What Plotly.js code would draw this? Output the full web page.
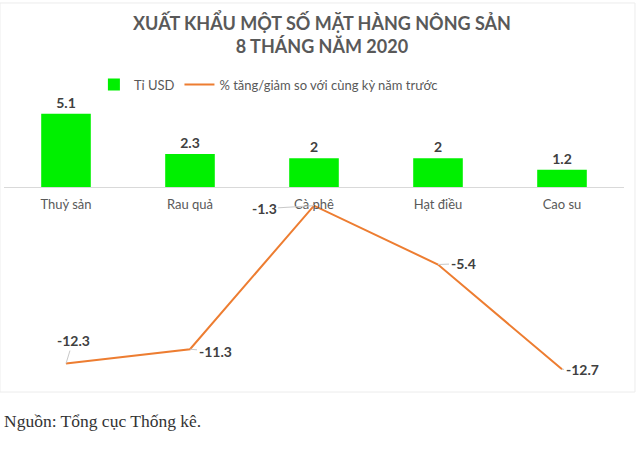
<!DOCTYPE html>
<html>
<head>
<meta charset="utf-8">
<script src="https://cdn.plot.ly/plotly-3.0.1.min.js"></script>
<style>
  html, body { margin: 0; padding: 0; background: #ffffff; }
  #chart { width: 644px; height: 470px; }
</style>
</head>
<body>
<div id="chart"></div>
<script>
// ---- data ----
const categories = ['Thuỷ sản', 'Rau quả', 'Cà phê', 'Hạt điều', 'Cao su'];
const exportValues = [5.1, 2.3, 2, 2, 1.2];            // Tỉ USD
const growthValues = [-12.3, -11.3, -1.3, -5.4, -12.7]; // % tăng/giảm
const seriesNames = ['Tỉ USD', '% tăng/giảm so với cùng kỳ năm trước'];
const titleText = 'XUẤT KHẨU MỘT SỐ MẶT HÀNG NÔNG SẢN<br>8 THÁNG NĂM 2020';
const sourceText = 'Nguồn: Tổng cục Thống kê.';

// ---- styling ----
const labelOffsets = [[7, -23], [25, 2], [-50, 3], [25, -1], [20, 0]]; // px offsets of line labels
const yRange = [-14, 6.2];
const axisPos = (0 - yRange[0]) / (yRange[1] - yRange[0]);
const FONT = 'Lato, "Noto Sans", sans-serif';
const legendFont = { family: FONT, size: 13, color: '#595959' };

const barTrace = {
  type: 'bar',
  name: seriesNames[0],
  legend: 'legend',
  x: categories,
  y: exportValues,
  marker: { color: '#00f000' },
  width: 0.4,
  texttemplate: '%{y}',
  textposition: 'outside',
  cliponaxis: false,
  textfont: { family: FONT, size: 14, color: '#404040', weight: 'bold' },
  hoverinfo: 'skip'
};

const lineTrace = {
  type: 'scatter',
  mode: 'lines',
  name: seriesNames[1],
  legend: 'legend2',
  x: categories,
  y: growthValues,
  line: { color: '#ED7D31', width: 2 },
  hoverinfo: 'skip'
};

const annotations = growthValues.map((v, i) => ({
  x: categories[i],
  y: v,
  xref: 'x', yref: 'y',
  text: String(v),
  showarrow: true,
  arrowhead: 0,
  arrowwidth: 1,
  arrowcolor: '#c8c8c8',
  ax: labelOffsets[i][0],
  ay: labelOffsets[i][1],
  font: { family: FONT, size: 14, color: '#404040', weight: 'bold' }
}));

annotations.push({
  xref: 'paper', yref: 'paper',
  x: -0.003, y: -0.114,
  xanchor: 'left', yanchor: 'middle',
  text: sourceText,
  showarrow: false,
  font: { family: '"Liberation Serif", "DejaVu Serif", serif', size: 17.5, color: '#333333' }
});

const layout = {
  width: 644,
  height: 470,
  margin: { l: 4, r: 20, t: 98, b: 82 },
  paper_bgcolor: '#ffffff',
  plot_bgcolor: '#ffffff',
  title: {
    text: titleText,
    x: 0.5, xref: 'container',
    y: 0.937, yref: 'container', yanchor: 'top',
    font: { family: FONT, size: 18, color: '#595959', weight: 'bold' }
  },
  showlegend: true,
  legend: {
    orientation: 'h',
    x: 0.145, xanchor: 'left',
    y: 1.098, yanchor: 'top',
    bgcolor: 'rgba(0,0,0,0)',
    font: legendFont,
    itemwidth: 30
  },
  legend2: {
    orientation: 'h',
    x: 0.283, xanchor: 'left',
    y: 1.098, yanchor: 'top',
    bgcolor: 'rgba(0,0,0,0)',
    font: legendFont,
    itemwidth: 30
  },
  xaxis: {
    type: 'category',
    range: [-0.5, categories.length - 0.5],
    anchor: 'free',
    position: axisPos,
    showline: false,
    showgrid: false,
    ticks: '',
    ticklabelstandoff: 8,
    tickfont: { family: FONT, size: 13, color: '#595959' },
    fixedrange: true
  },
  yaxis: {
    range: yRange,
    showgrid: false,
    showticklabels: false,
    zeroline: true,
    zerolinecolor: '#d9d9d9',
    zerolinewidth: 1,
    ticks: '',
    fixedrange: true
  },
  shapes: [{
    type: 'rect', xref: 'paper', yref: 'paper',
    x0: -0.0065, x1: 1.0177, y0: -0.0138, y1: 1.3276,
    line: { color: '#ececec', width: 1 },
    layer: 'below'
  }],
  annotations: annotations
};

Plotly.newPlot('chart', [barTrace, lineTrace], layout, { displayModeBar: false, staticPlot: true });
</script>
</body>
</html>
